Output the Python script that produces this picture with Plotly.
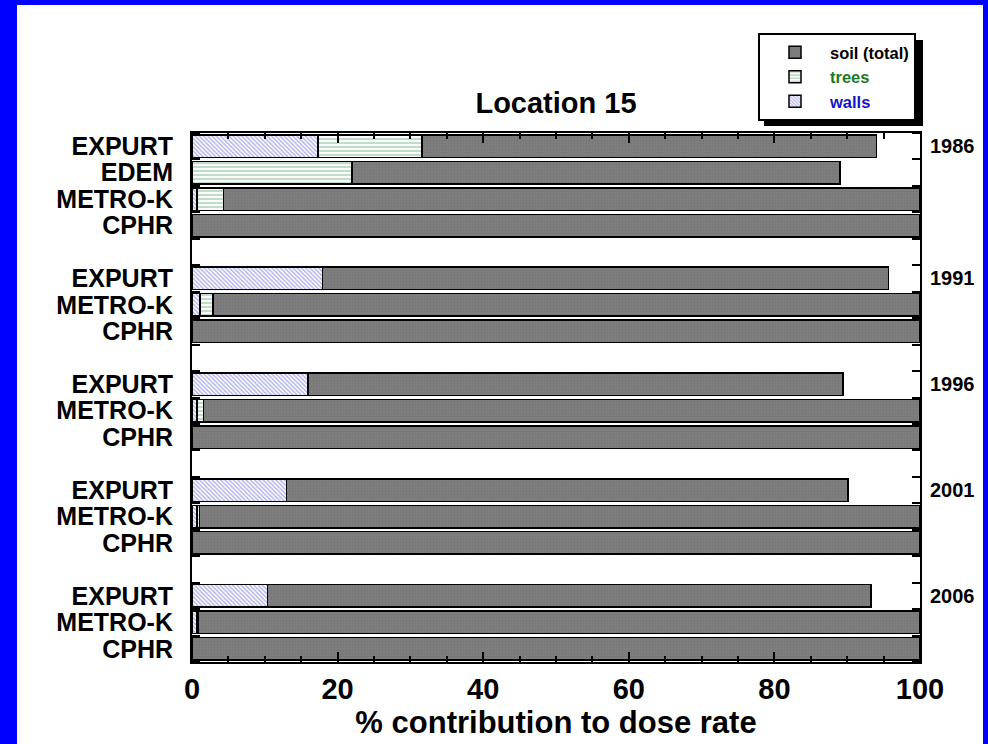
import plotly.graph_objects as go

# ---------------- data ----------------
years = ["1986", "1991", "1996", "2001", "2006"]
models_by_year = [
    ["EXPURT", "EDEM", "METRO-K", "CPHR"],
    ["EXPURT", "METRO-K", "CPHR"],
    ["EXPURT", "METRO-K", "CPHR"],
    ["EXPURT", "METRO-K", "CPHR"],
    ["EXPURT", "METRO-K", "CPHR"],
]
# % contributions to dose rate (walls, trees, soil) per model row
walls = [
    [17.3, 0.0, 0.7, 0.0],
    [17.9, 1.1, 0.0],
    [15.9, 0.7, 0.0],
    [13.0, 0.7, 0.0],
    [10.4, 0.6, 0.0],
]
trees = [
    [14.3, 22.0, 3.6, 0.0],
    [0.0, 1.8, 0.0],
    [0.0, 0.9, 0.0],
    [0.0, 0.3, 0.0],
    [0.0, 0.2, 0.0],
]
soil = [
    [62.4, 67.0, 95.7, 100.0],
    [77.8, 97.1, 100.0],
    [73.5, 98.4, 100.0],
    [77.1, 99.0, 100.0],
    [82.9, 99.2, 100.0],
]

# ---------------- row positions (one blank slot between year groups) ----------------
pos, labels, w_vals, t_vals, s_vals, year_pos = [], [], [], [], [], []
row = 0
for gi, yr in enumerate(years):
    year_pos.append(row)
    for mi, m in enumerate(models_by_year[gi]):
        pos.append(row)
        labels.append(m)
        w_vals.append(walls[gi][mi] if walls[gi][mi] > 0 else None)
        t_vals.append(trees[gi][mi] if trees[gi][mi] > 0 else None)
        s_vals.append(soil[gi][mi])
        row += 1
    row += 1
last_row = pos[-1]

FONT = "Liberation Sans, Arial, Helvetica, sans-serif"
L, R, T, B = 192, 68, 133, 82
W, H = 988, 744
PW, PH = W - L - R, H - T - B


def px(x):
    return (x - L) / PW


def py(y):
    return (H - B - y) / PH


line = dict(color="black", width=1.5)
fig = go.Figure()
fig.add_trace(go.Bar(
    y=pos, x=w_vals, orientation="h", name="<span style='color:#1414c8'>walls</span>",
    legendgroup="w", legendrank=3,
    marker=dict(color="white", line=line,
                pattern=dict(shape="\\", fgcolor="#6a6ad8", bgcolor="white", size=3, solidity=0.5)),
    hoverinfo="x+y",
))
fig.add_trace(go.Bar(
    y=pos, x=t_vals, orientation="h", name="<span style='color:#1a7a2a'>trees</span>",
    legendgroup="t", legendrank=2,
    marker=dict(color="white", line=line,
                pattern=dict(shape="-", fgcolor="#88b894", bgcolor="white", size=4, solidity=0.55)),
    hoverinfo="x+y",
))
fig.add_trace(go.Bar(
    y=pos, x=s_vals, orientation="h", name="soil (total)",
    legendgroup="s", legendrank=1,
    marker=dict(color="#7a7a7a", line=line,
                pattern=dict(shape=".", fgcolor="#6c6c6c", bgcolor="#7e7e7e", size=3, solidity=0.3)),
    hoverinfo="x+y",
))

annotations = []
for yp, yr in zip(year_pos, years):
    annotations.append(dict(
        x=1, xref="paper", y=yp, yref="y", text=yr, showarrow=False,
        xanchor="left", yanchor="middle", xshift=8,
        font=dict(family=FONT, size=20, color="black", weight="bold"),
    ))

shapes = [
    # white page inside the blue frame
    dict(type="rect", xref="paper", yref="paper", layer="below",
         x0=px(17), x1=px(983), y0=py(760), y1=py(5),
         fillcolor="white", line=dict(width=0)),
    # legend shadow
    dict(type="rect", xref="paper", yref="paper", layer="above",
         x0=px(764), x1=px(923), y0=py(126), y1=py(40),
         fillcolor="black", line=dict(width=0)),
]

fig.update_layout(
    width=W, height=H,
    margin=dict(l=L, r=R, t=T, b=B, autoexpand=False),
    paper_bgcolor="#0000ff", plot_bgcolor="white",
    barmode="stack", bargap=0.15,
    font=dict(family=FONT, color="black", weight="bold"),
    title=dict(text="Location 15", x=0.5, xref="paper", xanchor="center",
               y=1 - 103 / H, yref="container", yanchor="middle",
               font=dict(family=FONT, size=29, color="black", weight="bold")),
    legend=dict(x=px(758), y=py(33), xanchor="left", yanchor="top",
                bgcolor="white", bordercolor="black", borderwidth=2,
                traceorder="grouped", tracegroupgap=0, itemwidth=60,
                entrywidth=160, entrywidthmode="pixels",
                font=dict(family=FONT, size=16.5, color="black", weight="bold")),
    xaxis=dict(range=[0, 100], tickmode="linear", tick0=0, dtick=20,
               ticks="inside", ticklen=10, tickwidth=2, tickcolor="black",
               showline=True, linecolor="black", linewidth=2, mirror="ticks",
               showgrid=False, zeroline=False,
               minor=dict(tickmode="linear", tick0=0, dtick=5, ticks="inside",
                          ticklen=6, tickwidth=1.5, tickcolor="black", showgrid=False),
               tickfont=dict(family=FONT, size=29, color="black", weight="bold"),
               title=dict(text="% contribution to dose rate", standoff=4,
                          font=dict(family=FONT, size=31, color="black", weight="bold"))),
    yaxis=dict(range=[last_row + 0.5, -0.5], tickmode="array", tickvals=pos, ticktext=labels,
               ticks="", showline=True, linecolor="black", linewidth=2, mirror="ticks",
               showgrid=False, zeroline=False, ticklabelstandoff=12,
               minor=dict(tickmode="linear", tick0=0.5, dtick=1, ticks="inside",
                          ticklen=8, tickwidth=2, tickcolor="black", showgrid=False),
               tickfont=dict(family=FONT, size=25, color="black", weight="bold")),
    annotations=annotations,
    shapes=shapes,
)

fig.write_html("out.html")
